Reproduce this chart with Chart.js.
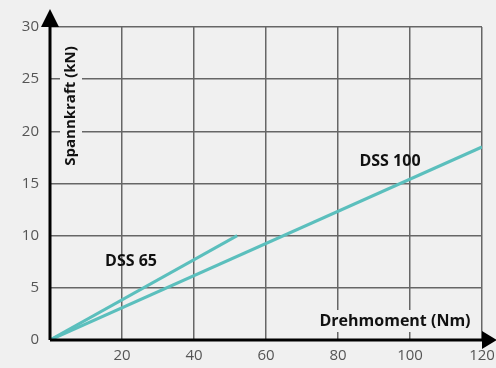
<!DOCTYPE html>
<html>
<head>
<meta charset="utf-8">
<script src="https://cdn.jsdelivr.net/npm/chart.js@4"></script>
<style>
  html, body { margin: 0; padding: 0; background: #f0f0f0; }
  #wrap { width: 496px; height: 368px; }
</style>
</head>
<body>
<div id="wrap"><canvas id="myChart"></canvas></div>
<script>
const dss65X = [0, 52];
const dss65Y = [0, 10];
const dss100X = [0, 120];
const dss100Y = [0, 18.5];
const xTicks = [20, 40, 60, 80, 100, 120];
const yTicks = [0, 5, 10, 15, 20, 25, 30];

const lineColor = "#5bbfbd";
const fontFam = "'Open Sans', sans-serif";

function pts(xs, ys) {
  return xs.map((x, i) => ({ x: x, y: ys[i] }));
}

const overlay = {
  id: "overlay",
  beforeDatasetsDraw(chart) {
    const c = chart.ctx;
    c.save();
    c.font = "bold 16px " + fontFam;
    c.textAlign = "center";
    c.textBaseline = "middle";
    // x-axis title with background
    const tx = 395, ty = 321;
    let w = c.measureText("Drehmoment (Nm)").width;
    c.fillStyle = "#f0f0f0";
    c.fillRect(tx - w / 2 - 4, ty - 11, w + 8, 22);
    c.fillStyle = "#111";
    c.fillText("Drehmoment (Nm)", tx, ty);
    // y-axis title rotated
    c.font = "bold 15px " + fontFam;
    c.translate(71, 106);
    c.rotate(-Math.PI / 2);
    w = c.measureText("Spannkraft (kN)").width;
    c.fillStyle = "#f0f0f0";
    c.fillRect(-w / 2 - 4, -11, w + 8, 22);
    c.fillStyle = "#111";
    c.fillText("Spannkraft (kN)", 0, 0);
    c.restore();
  },
  afterDatasetsDraw(chart) {
    const c = chart.ctx;
    const x = chart.scales.x, y = chart.scales.y;
    const x0 = x.getPixelForValue(0), y0 = y.getPixelForValue(0);
    const xEnd = x.getPixelForValue(120), yTop = y.getPixelForValue(30);
    c.save();
    c.strokeStyle = "#000";
    c.lineWidth = 3;
    c.beginPath();
    c.moveTo(x0, y0);
    c.lineTo(x0, yTop);
    c.moveTo(x0, y0);
    c.lineTo(xEnd, y0);
    c.stroke();
    c.fillStyle = "#000";
    c.beginPath();
    c.moveTo(x0, yTop - 18);
    c.lineTo(x0 - 9, yTop);
    c.lineTo(x0 + 9, yTop);
    c.closePath();
    c.fill();
    c.beginPath();
    c.moveTo(xEnd + 15, y0);
    c.lineTo(xEnd, y0 - 9);
    c.lineTo(xEnd, y0 + 9);
    c.closePath();
    c.fill();
    // series labels
    c.font = "bold 16px " + fontFam;
    c.textAlign = "center";
    c.textBaseline = "middle";
    c.fillStyle = "#111";
    c.fillText("DSS 65", 131, 261);
    c.fillText("DSS 100", 390, 161);
    c.restore();
  }
};

new Chart(document.getElementById("myChart"), {
  type: "scatter",
  data: {
    datasets: [
      {
        label: "DSS 65",
        data: pts(dss65X, dss65Y),
        showLine: true,
        borderColor: lineColor,
        borderWidth: 3,
        pointRadius: 0
      },
      {
        label: "DSS 100",
        data: pts(dss100X, dss100Y),
        showLine: true,
        borderColor: lineColor,
        borderWidth: 3,
        pointRadius: 0
      }
    ]
  },
  options: {
    responsive: true,
    maintainAspectRatio: false,
    animation: false,
    layout: { padding: { top: 27, right: 14, left: 0, bottom: 0 } },
    scales: {
      x: {
        type: "linear",
        min: 0,
        max: 120,
        afterFit(s) { s.height = 28; s.paddingRight = 0; s.paddingLeft = 0; },
        afterBuildTicks(s) { s.ticks = xTicks.map(v => ({ value: v })); },
        grid: { color: "#666", lineWidth: 1.5, drawTicks: false },
        border: { display: false },
        ticks: { color: "#555", padding: 7, font: { family: fontFam, size: 15 } }
      },
      y: {
        min: 0,
        max: 30,
        afterFit(s) { s.width = 50; s.paddingTop = 0; s.paddingBottom = 0; },
        afterBuildTicks(s) { s.ticks = yTicks.map(v => ({ value: v })); },
        grid: { color: "#666", lineWidth: 1.5, drawTicks: false },
        border: { display: false },
        ticks: { color: "#555", padding: 11, font: { family: fontFam, size: 15 } }
      }
    },
    plugins: {
      legend: { display: false },
      tooltip: { enabled: false }
    }
  },
  plugins: [overlay]
});
</script>
</body>
</html>
